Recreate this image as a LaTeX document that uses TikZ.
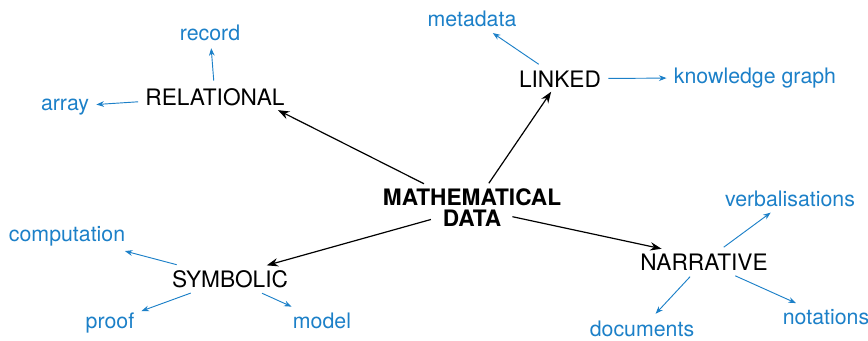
\documentclass[tikz,border=0pt]{standalone}
\usepackage{fontspec}
\setmainfont{TeX Gyre Heros}
\usetikzlibrary{arrows.meta}
\definecolor{leafblue}{RGB}{28,128,200}
\tikzset{
  mainarr/.style={-{Stealth[length=3mm,width=2.2mm]}, line width=0.9pt, shorten <=1pt},
  leafarr/.style={-{Stealth[length=2mm,width=1.5mm]}, leafblue, line width=0.7pt,
                  shorten <=2pt, shorten >=2pt},
  hub/.style={font=\fontsize{17}{15.8}\selectfont\bfseries, align=center},
  cat/.style={font=\fontsize{17}{19}\selectfont, anchor=base},
  leaf/.style={font=\fontsize{16}{19}\selectfont, text=leafblue, anchor=base},
}

\begin{document}
\begin{tikzpicture}[x=0.75pt, y=-0.75pt]
  \useasboundingbox (0,0) rectangle (868,340);
  % hub
  \node[hub] (md) at (472,208) {MATHEMATICAL\\DATA};
  % categories
  \node[cat] (rel) at (215,105) {RELATIONAL};
  \node[cat] (lnk) at (560,87) {LINKED};
  \node[cat] (sym) at (230,287) {SYMBOLIC};
  \node[cat] (nar) at (704,270) {NARRATIVE};
  % leaves
  \node[leaf] (rec) at (210,40.5) {record};
  \node[leaf] (arr) at (65,110) {array};
  \node[leaf] (meta) at (472,26.5) {metadata};
  \node[leaf] (kg) at (755,83) {knowledge graph};
  \node[leaf] (comp) at (67,241) {computation};
  \node[leaf] (prf) at (110,328) {proof};
  \node[leaf] (mdl) at (322,328) {model};
  \node[leaf] (verb) at (790,206) {verbalisations};
  \node[leaf] (doc) at (642,336) {documents};
  \node[leaf] (notn) at (826,324) {notations};
  % hub to categories
  \draw[mainarr] (md) -- (rel.-12);
  \draw[mainarr] (md) -- (lnk);
  \draw[mainarr, shorten <=32pt] (md.center) -- (sym.20);
  \draw[mainarr, shorten <=31pt] (md.center) -- (nar.163);
  % categories to leaves
  \draw[leafarr] (rel) -- (rec);
  \draw[leafarr] (rel) -- (arr);
  \draw[leafarr] (lnk) -- (meta);
  \draw[leafarr] (lnk) -- (kg);
  \draw[leafarr] (sym) -- (comp);
  \draw[leafarr] (sym) -- (prf);
  \draw[leafarr] (sym) -- (mdl);
  \draw[leafarr] (nar) -- (verb);
  \draw[leafarr] (nar) -- (doc);
  \draw[leafarr] (nar) -- (notn);
\end{tikzpicture}
\end{document}
